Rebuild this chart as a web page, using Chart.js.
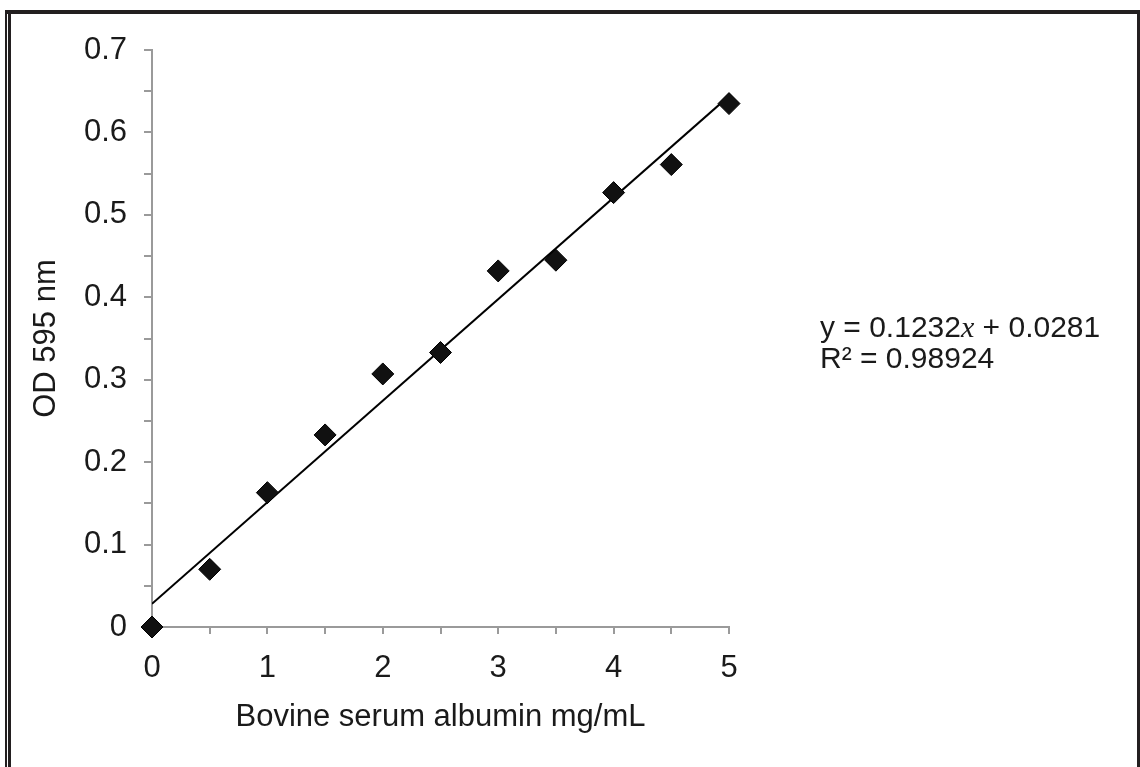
<!DOCTYPE html>
<html>
<head>
<meta charset="utf-8">
<script src="https://cdn.jsdelivr.net/npm/chart.js@4.4.0/dist/chart.umd.min.js"></script>
<style>
  body { margin: 0; background: #fff; }
  #wrap { position: relative; width: 1140px; height: 767px; }
</style>
</head>
<body>
<div id="wrap"><canvas id="bsa"></canvas></div>
<script>
var concBSA = [0, 0.5, 1, 1.5, 2, 2.5, 3, 3.5, 4, 4.5, 5];
var odValues = [0, 0.070, 0.163, 0.233, 0.307, 0.333, 0.432, 0.445, 0.527, 0.561, 0.635];
var trendX = [0, 5];
var trendY = [0.0281, 0.6441];
var eqLine1 = ['y = 0.1232', 'x', ' + 0.0281'];
var eqLine2 = 'R\u00b2 = 0.98924';

var points = [];
for (let i = 0; i < concBSA.length; i++) {
    points.push({x: concBSA[i], y: odValues[i]});
}
var trend = [];
for (let i = 0; i < trendX.length; i++) {
    trend.push({x: trendX[i], y: trendY[i]});
}

var frameAndText = {
    id: 'frameAndText',
    afterDraw: function (chart) {
        var ctx = chart.ctx;
        ctx.save();
        // frame round the picture
        ctx.fillStyle = '#231f20';
        ctx.fillRect(5, 10, 1135, 4);
        ctx.fillRect(5, 10, 2, 757);
        ctx.fillRect(8, 10, 3, 757);
        ctx.fillRect(1137, 10, 3, 757);

        // trendline equation
        ctx.fillStyle = '#1a1a1a';
        ctx.textBaseline = 'alphabetic';
        var x = 820;
        ctx.font = '30px "Liberation Sans", Arial, sans-serif';
        ctx.fillText(eqLine1[0], x, 337);
        x += ctx.measureText(eqLine1[0]).width;
        ctx.font = 'italic 30px "Liberation Serif", "Times New Roman", serif';
        ctx.fillText(eqLine1[1], x, 337);
        x += ctx.measureText(eqLine1[1]).width;
        ctx.font = '30px "Liberation Sans", Arial, sans-serif';
        ctx.fillText(eqLine1[2], x, 337);
        ctx.fillText(eqLine2, 820, 368);
        ctx.restore();
    }
};

var scatterChart = new Chart("bsa", {
    type: "scatter",
    data: {
        datasets: [{
            data: points,
            pointStyle: 'rectRot',
            pointRadius: 11,
            backgroundColor: '#111',
            borderColor: '#000',
            borderWidth: 1,
            clip: false
        }, {
            type: 'line',
            data: trend,
            borderColor: '#000',
            borderWidth: 2,
            pointRadius: 0,
            fill: false
        }]
    },
    options: {
        responsive: true,
        maintainAspectRatio: false,
        animation: false,
        layout: {
            padding: {left: 14, right: 411, top: 50, bottom: 0}
        },
        plugins: {
            legend: {display: false},
            tooltip: {enabled: false}
        },
        scales: {
            x: {
                type: 'linear',
                min: 0,
                max: 5,
                afterFit: function (scale) { scale.height = 140; },
                border: {color: '#9a9a9a', width: 2},
                grid: {drawOnChartArea: false, drawTicks: true, tickLength: 7, color: '#9a9a9a', lineWidth: 2},
                ticks: {
                    stepSize: 0.5,
                    padding: 16,
                    color: '#1a1a1a',
                    font: {family: '"Liberation Sans", Arial, sans-serif', size: 31},
                    maxRotation: 0,
                    autoSkip: false,
                    callback: function (v) {
                        return (Math.round(v * 10) % 10 === 0) ? String(Math.round(v)) : '';
                    }
                },
                title: {
                    display: true,
                    text: 'Bovine serum albumin mg/mL',
                    color: '#1a1a1a',
                    font: {family: '"Liberation Sans", Arial, sans-serif', size: 31},
                    padding: {top: 0, bottom: 31}
                }
            },
            y: {
                min: 0,
                max: 0.7,
                afterFit: function (scale) { scale.width = 138; },
                border: {color: '#9a9a9a', width: 2},
                grid: {drawOnChartArea: false, drawTicks: true, tickLength: 8, color: '#9a9a9a', lineWidth: 2},
                ticks: {
                    stepSize: 0.05,
                    padding: 17,
                    color: '#1a1a1a',
                    font: {family: '"Liberation Sans", Arial, sans-serif', size: 31},
                    autoSkip: false,
                    callback: function (v) {
                        var k = Math.round(v * 100);
                        if (k % 10 !== 0) return '';
                        return k === 0 ? '0' : (k / 100).toFixed(1);
                    }
                },
                title: {
                    display: true,
                    text: 'OD 595 nm',
                    color: '#1a1a1a',
                    font: {family: '"Liberation Sans", Arial, sans-serif', size: 31},
                    padding: {top: 14, bottom: 0}
                }
            }
        }
    },
    plugins: [frameAndText]
});
</script>
</body>
</html>
